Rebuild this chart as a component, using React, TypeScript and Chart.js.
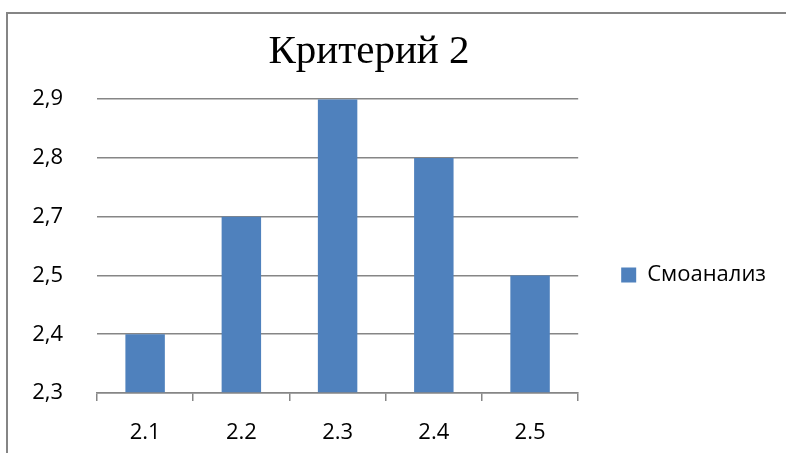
import React, { useEffect, useRef } from "react";
import { Chart, registerables } from "chart.js";

Chart.register(...registerables);

const chartTitle = "Критерий 2";
const seriesLabel = "Смоанализ";
const categories = ["2.1", "2.2", "2.3", "2.4", "2.5"];
const seriesValues = [2.4, 2.7, 2.9, 2.8, 2.5];
// The value axis of the original is ordinal: its labels are evenly spaced
const yTickValues = [2.3, 2.4, 2.5, 2.7, 2.8, 2.9];
const yTickLabels = ["2,3", "2,4", "2,5", "2,7", "2,8", "2,9"];

const BAR_COLOR = "#4F81BD";
const GRID_COLOR = "#868686";
const SANS = "'Open Sans', 'Liberation Sans', sans-serif";

export default function App() {
  const canvasRef = useRef<HTMLCanvasElement | null>(null);

  useEffect(() => {
    const canvas = canvasRef.current;
    if (!canvas) return;
    const ordinal = seriesValues.map((v) => yTickValues.indexOf(v));
    const chart = new Chart(canvas, {
      type: "bar",
      data: {
        labels: categories,
        datasets: [
          {
            label: seriesLabel,
            data: ordinal,
            backgroundColor: BAR_COLOR,
            borderWidth: 0,
            categoryPercentage: 1,
            barPercentage: 0.41,
          },
        ],
      },
      options: {
        animation: false,
        responsive: true,
        maintainAspectRatio: false,
        layout: { padding: { left: -38, right: 10, top: 0, bottom: 0 } },
        plugins: {
          title: {
            display: true,
            text: chartTitle,
            color: "#000",
            font: { family: "'Liberation Serif', 'Times New Roman', serif", size: 41, weight: "normal" },
            padding: { top: 28, bottom: 22 },
          },
          legend: {
            display: true,
            position: "right",
            fullSize: false,
            maxWidth: 208,
            align: "center",
            title: {
              display: true,
              text: "",
              font: { size: 10, lineHeight: 1 },
              padding: { top: 48, bottom: 0 },
            },
            labels: {
              boxWidth: 15,
              boxHeight: 15,
              padding: 43,
              color: "#000",
              font: { family: SANS, size: 22 },
            },
          },
          tooltip: {
            callbacks: {
              label: (ctx: any) => `${seriesLabel}: ${yTickLabels[ctx.raw]}`,
            },
          },
        },
        scales: {
          x: {
            grid: {
              display: true,
              drawOnChartArea: false,
              drawTicks: true,
              tickLength: 8,
              color: GRID_COLOR,
              lineWidth: 1.5,
            },
            border: { display: true, color: GRID_COLOR, width: 1.5 },
            ticks: {
              color: "#000",
              font: { family: SANS, size: 22 },
              padding: 19,
            },
            afterFit: (scale: any) => {
              scale.height = 60;
            },
          },
          y: {
            min: 0,
            max: yTickValues.length - 1,
            grid: {
              color: GRID_COLOR,
              lineWidth: 1.5,
              drawTicks: false,
            },
            border: { display: false },
            ticks: {
              stepSize: 1,
              color: "#000",
              font: { family: SANS, size: 22 },
              padding: 34,
              callback: (v: any) => yTickLabels[v as number] ?? "",
            },
            afterFit: (scale: any) => {
              scale.width = 135;
            },
          },
        },
      },
    });
    return () => chart.destroy();
  }, []);

  return (
    <div style={{ position: "absolute", left: 0, top: 0, width: 786, height: 453, background: "#fff", overflow: "hidden" }}>
      <div
        style={{
          position: "absolute",
          left: 6,
          top: 12,
          width: 800,
          height: 460,
          borderLeft: "2px solid #858585",
          borderTop: "2px solid #858585",
        }}
      />
      <div style={{ position: "absolute", left: 0, top: 0, width: 786, height: 453 }}>
        <canvas ref={canvasRef} />
      </div>
    </div>
  );
}
